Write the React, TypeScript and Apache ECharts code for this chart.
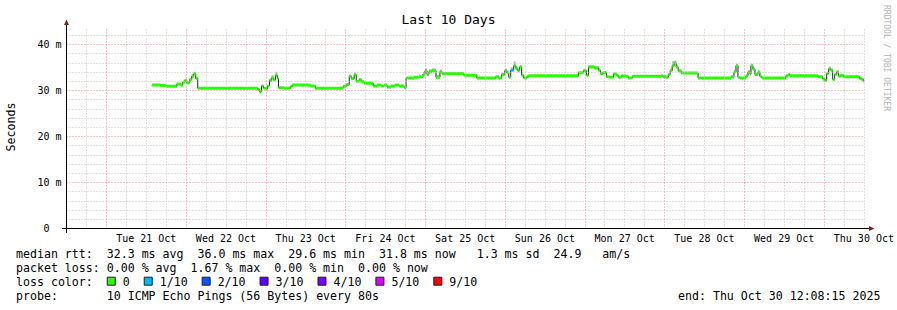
import React, { useEffect, useRef } from 'react';
import * as echarts from 'echarts';

// Sample start times, hours since Mon 20 Oct 00:00
const sampleHours = [
  37.7, 40.1, 41.9, 45.2, 46.4, 47.0, 47.6, 48.2, 49.1, 49.7,
  50.3, 50.9, 51.5, 69.5, 70.1, 70.7, 71.3, 71.9, 72.5, 73.1,
  73.7, 74.3, 74.9, 75.5, 75.8, 77.3, 79.4, 80.0, 85.4, 86.9,
  95.3, 96.2, 97.1, 97.7, 98.6, 99.2, 100.1, 100.7, 101.6, 104.3,
  105.5, 106.7, 107.6, 108.5, 109.7, 110.9, 112.1, 113.6, 114.2, 116.6,
  118.1, 119.3, 119.9, 120.5, 121.1, 122.0, 123.2, 124.4, 125.0, 131.6,
  135.5, 141.2, 142.1, 143.0, 143.9, 144.5, 145.1, 145.7, 146.6, 147.2,
  147.8, 148.4, 149.0, 149.6, 150.5, 151.1, 166.1, 167.6, 168.5, 169.1,
  170.9, 172.1, 172.7, 173.6, 174.5, 175.4, 176.6, 177.5, 178.1, 179.0,
  180.2, 181.1, 182.3, 191.0, 191.6, 192.5, 193.1, 193.7, 194.3, 194.9,
  195.5, 196.1, 197.0, 202.1, 212.0, 212.9, 213.5, 214.1, 214.7, 216.5,
  217.1, 217.7, 218.0, 218.6, 219.2, 220.1, 220.7, 221.3, 228.5, 229.1,
  229.7, 238.1, 239.6, 240.2, 240.8, 241.4, 242.0, 242.6, 243.2, 243.8,
  244.4, 245.0, 245.9, 250.7, 251.3, 251.9,
];
const dataEndHour = 252.1;

// Median RTT (ms)
const medianMs = [
  31.2, 31.1, 30.95, 31.4, 31.2, 31.8, 32.2, 31.7, 32.4, 33.1,
  33.6, 32.6, 30.5, 30.2, 29.7, 31.0, 30.5, 30.4, 31.0, 32.2,
  32.7, 32.3, 33.3, 32.6, 30.6, 30.5, 30.9, 31.2, 31.0, 30.5,
  30.9, 31.3, 33.1, 32.6, 33.4, 32.0, 32.4, 31.9, 31.6, 31.0,
  31.2, 31.0, 31.2, 30.75, 31.0, 31.2, 31.0, 30.6, 32.7, 32.9,
  33.0, 33.6, 34.3, 33.5, 34.1, 34.3, 32.9, 34.1, 33.7, 33.3,
  32.7, 33.0, 32.7, 33.5, 34.3, 33.9, 32.9, 34.4, 35.4, 34.8,
  34.3, 35.1, 33.3, 32.7, 33.0, 33.2, 33.85, 34.3, 33.3, 35.1,
  34.9, 34.4, 33.7, 33.9, 33.0, 32.9, 33.6, 33.3, 32.9, 33.2,
  33.1, 32.7, 33.1, 33.2, 33.0, 32.9, 33.5, 34.3, 35.4, 36.0,
  35.1, 34.3, 33.8, 32.7, 33.0, 34.0, 35.4, 32.9, 32.7, 33.2,
  34.0, 33.6, 35.4, 34.6, 33.5, 34.0, 33.1, 32.7, 33.2, 33.4,
  33.2, 33.0, 32.5, 32.2, 33.7, 34.7, 34.4, 32.4, 33.5, 34.0,
  33.1, 33.3, 33.0, 32.6, 32.4, 32.0,
];

// Top of the grey "smoke" above the median (0 = none)
const smokeTopMs = [
  0, 0, 0, 0, 0, 0, 32.5, 0, 32.7, 33.6,
  34.1, 33.0, 0, 0, 0, 0, 0, 0, 0, 32.6,
  33.3, 0, 34.1, 0, 0, 0, 0, 0, 0, 0,
  0, 0, 33.4, 0, 33.9, 0, 32.7, 0, 0, 0,
  0, 0, 0, 0, 0, 0, 0, 0, 0, 0,
  0, 34.0, 34.8, 0, 34.6, 34.8, 33.4, 34.5, 0, 0,
  0, 0, 0, 0, 34.7, 0, 0, 35.0, 36.3, 35.3,
  0, 35.5, 0, 0, 0, 0, 0, 34.6, 0, 35.5,
  35.3, 34.8, 0, 0, 0, 0, 0, 0, 0, 0,
  0, 0, 0, 0, 0, 0, 0, 34.8, 36.4, 36.5,
  35.6, 0, 0, 0, 0, 34.4, 35.8, 0, 0, 0,
  34.4, 0, 35.8, 35.0, 0, 34.3, 0, 0, 0, 0,
  0, 0, 0, 0, 34.1, 35.2, 34.8, 0, 0, 34.4,
  0, 0, 0, 0, 0, 0,
];

// Samples with packet loss (tenths of pings lost)
const lossHours = [145.7];
const lossTenths = [1];

const xTickLabels = [
  'Tue 21 Oct', 'Wed 22 Oct', 'Thu 23 Oct', 'Fri 24 Oct', 'Sat 25 Oct',
  'Sun 26 Oct', 'Mon 27 Oct', 'Tue 28 Oct', 'Wed 29 Oct', 'Thu 30 Oct',
];
const firstLabelHour = 36;

const lossLegendLabels = ['0', '1/10', '2/10', '3/10', '4/10', '5/10', '9/10'];
const lossLegendColors = ['#26ff00', '#00b8ff', '#0059ff', '#5e00ff', '#7e00ff', '#dd00ff', '#ff0000'];

const statLines = [
  'median rtt:  32.3 ms avg  36.0 ms max  29.6 ms min  31.8 ms now   1.3 ms sd  24.9   am/s',
  'packet loss: 0.00 % avg  1.67 % max  0.00 % min  0.00 % now',
];
const lossColorLabel = 'loss color:';
const probeLine = 'probe:       10 ICMP Echo Pings (56 Bytes) every 80s';
const endLine = 'end: Thu Oct 30 12:08:15 2025';
const titleText = 'Last 10 Days';
const yAxisTitle = 'Seconds';
const watermark = 'RRDTOOL / TOBI OETIKER';

const MONO = '"DejaVu Sans Mono", monospace';
const LEG_SIZE = 11.6;
const CW = 6.98;

const X_MIN = 12, X_MAX = 252, X_MINOR = 6, X_MAJOR = 24;
const Y_MIN = 0, Y_MAX = 43.478, Y_MINOR = 2, Y_MAJOR = 10;

function lossIndex(t: number): number {
  if (t <= 0) return 0;
  if (t <= 4) return t;
  if (t <= 8) return 5;
  return 6;
}

function placeTokens(line: string, x0: number, y: number): any[] {
  const out: any[] = [];
  const re = /\S+(?: \S+)*/g;
  let m: RegExpExecArray | null;
  while ((m = re.exec(line))) {
    out.push({
      type: 'text',
      x: x0 + m.index * CW,
      y,
      style: { text: m[0], font: `${LEG_SIZE}px ${MONO}`, fill: '#000', align: 'left', verticalAlign: 'middle' },
    });
  }
  return out;
}

export default function App() {
  const ref = useRef<HTMLDivElement>(null);
  useEffect(() => {
    if (!ref.current) return;
    const chart = echarts.init(ref.current, undefined, { renderer: 'svg' });

    const segs = sampleHours.map((h, i) => {
      const end = i + 1 < sampleHours.length ? sampleHours[i + 1] : dataEndHour;
      const li = lossHours.indexOf(h);
      const loss = li >= 0 ? lossIndex(lossTenths[li]) : 0;
      const top = smokeTopMs[i] > 0 ? smokeTopMs[i] : medianMs[i];
      return [h, end, medianMs[i], top, loss];
    });
    const linePts = sampleHours.map((h, i) => [h, medianMs[i]]);
    linePts.push([dataEndHour, medianMs[medianMs.length - 1]]);

    const grey = '#c4c4c4';
    const red = '#e08c8c';
    const dash = [1, 2];
    const textStyle = { fontFamily: MONO, fontSize: 10, color: '#000' };

    // grid line positions (axis values)
    const xMinor: any[] = [], xMajor: any[] = [], yMinor: any[] = [], yMajor: any[] = [];
    for (let h = X_MIN + X_MINOR; h <= X_MAX; h += X_MINOR) (h % X_MAJOR === 0 ? xMajor : xMinor).push({ xAxis: h });
    for (let v = Y_MINOR; v < Y_MAX; v += Y_MINOR) (v % Y_MAJOR === 0 ? yMajor : yMinor).push({ yAxis: v });

    const graphics: any[] = [];
    graphics.push({
      type: 'text', x: 448.5, y: 19,
      style: { text: titleText, font: `13px ${MONO}`, fill: '#000', align: 'center', verticalAlign: 'middle' },
    });
    graphics.push({
      type: 'text', x: 11, y: 127, rotation: Math.PI / 2,
      style: { text: yAxisTitle, font: `${LEG_SIZE}px ${MONO}`, fill: '#000', align: 'center', verticalAlign: 'middle' },
    });
    graphics.push({
      type: 'text', x: 886.5, y: 5, rotation: -Math.PI / 2,
      style: { text: watermark, font: `8px ${MONO}`, fill: '#b4b4b4', align: 'left', verticalAlign: 'middle' },
    });
    // axes with overshoot and arrows
    graphics.push({ type: 'line', z: 100, shape: { x1: 62, y1: 228.5, x2: 870, y2: 228.5 }, style: { stroke: '#000', lineWidth: 1 } });
    graphics.push({ type: 'line', z: 100, shape: { x1: 66.5, y1: 233, x2: 66.5, y2: 23 }, style: { stroke: '#000', lineWidth: 1 } });
    graphics.push({ type: 'polygon', z: 101, shape: { points: [[64, 25], [69, 25], [66.5, 19.5]] }, style: { fill: '#8b1a1a' } });
    graphics.push({ type: 'polygon', z: 101, shape: { points: [[869, 226], [869, 231], [874.5, 228.5]] }, style: { fill: '#8b1a1a' } });

    const rowY = [253.7, 267.7, 281.7, 295.7];
    statLines.forEach((l, i) => graphics.push(...placeTokens(l, 16, rowY[i])));
    graphics.push(...placeTokens(lossColorLabel, 16, rowY[2]));
    let bx = 16 + 13 * CW;
    lossLegendLabels.forEach((lab, i) => {
      graphics.push({
        type: 'rect', shape: { x: bx + 0.5, y: rowY[2] - 4.5, width: 8, height: 8 },
        style: { fill: lossLegendColors[i], stroke: '#202020', lineWidth: 1 },
      });
      const tx = bx + 16;
      graphics.push({
        type: 'text', x: tx, y: rowY[2],
        style: { text: lab, font: `${LEG_SIZE}px ${MONO}`, fill: '#000', align: 'left', verticalAlign: 'middle' },
      });
      bx = tx + lab.length * CW + 14;
    });
    graphics.push(...placeTokens(probeLine, 16, rowY[3]));
    graphics.push(...placeTokens(endLine, 678, rowY[3]));

    const gridSeries = (name: string, data: any[], color: string, z: number) => ({
      type: 'line', name, z, silent: true, data: [],
      markLine: {
        silent: true, symbol: 'none', animation: false,
        label: { show: false },
        lineStyle: { color, type: dash, width: 1 },
        emphasis: { disabled: true },
        data,
      },
    });

    chart.setOption({
      animation: false,
      backgroundColor: '#ffffff',
      grid: { left: 66.5, right: 30.5, top: 28.5, bottom: 81.5, containLabel: false },
      xAxis: {
        type: 'value', min: X_MIN, max: X_MAX, interval: X_MINOR,
        axisLine: { show: false }, axisTick: { show: false },
        axisLabel: {
          ...textStyle, margin: 5,
          formatter: (v: number) => {
            const k = (v - firstLabelHour) / 24;
            return Number.isInteger(k) && k >= 0 && k < xTickLabels.length ? xTickLabels[k] : '';
          },
        },
        splitLine: { show: false },
      },
      yAxis: {
        type: 'value', min: Y_MIN, max: Y_MAX, interval: Y_MINOR,
        axisLine: { show: false }, axisTick: { show: false },
        axisLabel: {
          ...textStyle, margin: 5,
          formatter: (v: number) => (v % Y_MAJOR === 0 ? (v === 0 ? '0\u00a0\u00a0' : `${v} m`) : ''),
        },
        splitLine: { show: false },
      },
      graphic: graphics,
      series: [
        gridSeries('minor grid', [...xMinor, ...yMinor], grey, 1),
        gridSeries('major grid', [...xMajor, ...yMajor], red, 1),
        {
          type: 'custom', name: 'smoke', z: 2, clip: true,
          encode: { x: [0, 1], y: [2, 3] },
          data: segs,
          renderItem: (params: any, api: any) => {
            const t0 = api.value(0), t1 = api.value(1), m = api.value(2), top = api.value(3);
            if (!(top > m)) return { type: 'group', children: [] };
            const a = api.coord([t0, m]);
            const b = api.coord([t1, top]);
            return {
              type: 'rect',
              shape: { x: a[0], y: b[1], width: b[0] - a[0], height: a[1] - b[1] },
              style: { fill: '#b8b8b8' },
            };
          },
        },
        {
          type: 'line', name: 'median', z: 3, step: 'end', symbol: 'none',
          data: linePts,
          lineStyle: { color: '#202020', width: 1 },
        },
        {
          type: 'custom', name: 'loss', z: 4, clip: true,
          encode: { x: [0, 1], y: [2, 3] },
          data: segs,
          renderItem: (params: any, api: any) => {
            const t0 = api.value(0), t1 = api.value(1), m = api.value(2), loss = api.value(4);
            const a = api.coord([t0, m]);
            const b = api.coord([t1, m]);
            return {
              type: 'rect',
              shape: { x: a[0], y: a[1] - 1.5, width: b[0] - a[0], height: 3 },
              style: { fill: lossLegendColors[loss] },
            };
          },
        },
      ],
    });
    return () => chart.dispose();
  }, []);
  return (
    <div
      ref={ref}
      style={{ position: 'fixed', left: 0, top: 0, width: 897, height: 310, background: '#fff' }}
    />
  );
}
